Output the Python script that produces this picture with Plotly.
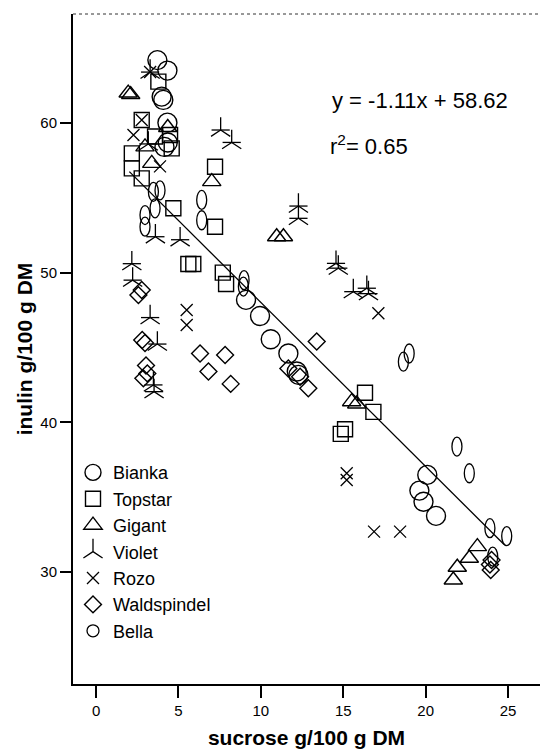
import plotly.graph_objects as go

# ---- data (sucrose g/100 g DM, inulin g/100 g DM) ----
bianka_x = [3.72, 4.33, 3.98, 4.08, 4.33, 4.15, 4.35, 9.1, 9.95, 10.6, 11.67, 12.18, 12.28, 20.1, 19.62, 19.87, 20.63]
bianka_y = [64.2, 63.5, 61.76, 61.54, 60.02, 58.4, 58.7, 48.18, 47.1, 45.55, 44.6, 43.4, 43.17, 36.49, 35.44, 34.7, 33.75]

topstar_x = [3.78, 2.77, 3.58, 4.49, 4.59, 2.17, 2.17, 2.77, 7.22, 4.69, 7.22, 5.6, 5.9, 7.69, 7.89, 16.32, 16.83, 15.11, 14.85]
topstar_y = [62.76, 60.2, 59.1, 59.2, 58.3, 57.97, 56.97, 56.3, 57.08, 54.3, 53.07, 50.58, 50.58, 50.0, 49.24, 41.98, 40.7, 39.54, 39.23]

gigant_x = [1.95, 2.1, 4.35, 2.97, 3.38, 7.02, 10.96, 11.37, 15.51, 15.82, 23.14, 22.65, 21.92, 21.68]
gigant_y = [62.0, 61.9, 59.7, 58.4, 57.3, 56.08, 52.4, 52.4, 41.38, 41.23, 31.7, 30.92, 30.32, 29.47]

violet_x = [3.28, 3.17, 7.56, 8.23, 3.6, 5.1, 2.17, 2.22, 3.28, 3.72, 3.48, 3.52, 12.28, 12.28, 14.56, 14.7, 15.61, 16.43, 16.53]
violet_y = [63.4, 58.6, 59.53, 58.7, 52.4, 52.2, 50.6, 49.5, 47.0, 45.23, 42.5, 42.05, 54.45, 53.63, 50.62, 50.3, 48.73, 48.96, 48.6]

rozo_x = [3.28, 2.77, 2.27, 3.88, 5.5, 5.5, 17.13, 15.21, 15.21, 16.87, 18.45]
rozo_y = [63.4, 60.2, 59.2, 57.1, 47.5, 46.5, 47.29, 36.6, 36.15, 32.7, 32.7]

wald_x = [11.67, 12.38, 12.88, 13.39, 2.77, 2.57, 2.97, 2.8, 6.31, 7.83, 6.82, 8.17, 3.03, 3.11, 2.87, 24.0, 23.95, 23.9]
wald_y = [43.6, 43.05, 42.28, 45.4, 48.84, 48.5, 45.3, 45.5, 44.6, 44.5, 43.4, 42.57, 43.8, 43.27, 42.94, 30.8, 30.14, 30.5]

bella_x = [3.48, 3.88, 3.58, 2.97, 2.97, 6.41, 6.41, 8.98, 8.94, 18.65, 19.0, 21.9, 22.65, 23.9, 24.92, 24.07]
bella_y = [55.4, 55.5, 54.3, 53.85, 53.07, 54.86, 53.5, 49.5, 49.07, 44.05, 44.6, 38.38, 36.6, 32.93, 32.4, 31.03]

fit_x = [2.02, 24.76]
fit_y = [56.75, 31.84]

x_ticks = [0, 5, 10, 15, 20, 25]
y_ticks = [30, 40, 50, 60]

eq_text = "y = -1.11x + 58.62"
r2_text = "r<sup>2</sup>= 0.65"

FONT = "Liberation Sans, Arial, sans-serif"
BLK = "black"

fig = go.Figure()

def add(name, xs, ys, symbol, size, show=True, lw=1.4):
    fig.add_trace(go.Scatter(
        x=xs, y=ys, mode="markers", name=name, showlegend=show,
        marker=dict(symbol=symbol, size=size, color=BLK,
                    line=dict(color=BLK, width=lw)),
    ))

fig.add_trace(go.Scatter(x=fit_x, y=fit_y, mode="lines", showlegend=False,
                         line=dict(color=BLK, width=1.3)))

add("Bianka", bianka_x, bianka_y, "circle-open", 19)
add("Topstar", topstar_x, topstar_y, "square-open", 15)
add("Gigant", gigant_x, gigant_y, "triangle-up-open", 16)
add("Violet", violet_x, violet_y, "y-up-open", 16, lw=1.3)
add("Violet", violet_x, violet_y, "line-ew-open", 13, show=False, lw=1.3)
add("Rozo", rozo_x, rozo_y, "x-thin-open", 12, lw=1.3)
add("Waldspindel", wald_x, wald_y, "diamond-open", 13)

shapes = []
for i, (bx, by) in enumerate(zip(bella_x, bella_y)):
    shapes.append(dict(
        type="circle", xref="x", yref="y",
        xsizemode="pixel", ysizemode="pixel",
        xanchor=bx, yanchor=by,
        x0=-5, x1=5, y0=-9.5, y1=9.5,
        line=dict(color=BLK, width=1.3),
        showlegend=(i == 0), name="Bella", legendrank=2000,
    ))

# top frame line (dotted)
shapes.append(dict(type="line", xref="paper", yref="paper", x0=0, x1=1, y0=1, y1=1,
                   line=dict(color="#333", width=1, dash="dot")))

L, T, W, H = 73, 14, 540 - 73, 684 - 14

fig.update_layout(
    width=540, height=751,
    margin=dict(l=73, r=0, t=14, b=67),
    paper_bgcolor="white", plot_bgcolor="white",
    font=dict(family=FONT, color=BLK),
    shapes=shapes,
    showlegend=True,
    legend=dict(x=0.0, y=0.343, xanchor="left", yanchor="top",
                bgcolor="rgba(0,0,0,0)", font=dict(size=18, family=FONT),
                itemsizing="trace", tracegroupgap=0),
    annotations=[
        dict(x=(330 - L) / W, y=1 - (100 - T) / H, xref="paper", yref="paper",
             xanchor="left", yanchor="middle", showarrow=False,
             text=eq_text, font=dict(size=22, family=FONT)),
        dict(x=(328 - L) / W, y=1 - (145 - T) / H, xref="paper", yref="paper",
             xanchor="left", yanchor="middle", showarrow=False,
             text=r2_text, font=dict(size=22, family=FONT)),
    ],
)

fig.update_xaxes(range=[-1.4, 26.94], tickvals=x_ticks, ticks="outside", ticklen=12,
                 tickwidth=1.5, tickcolor=BLK, showline=True, linewidth=2, linecolor=BLK,
                 showgrid=False, zeroline=False, tickfont=dict(size=15),
                 title=dict(text="<b>sucrose g/100 g DM</b>", font=dict(size=21), standoff=12))
fig.update_yaxes(range=[22.52, 67.28], tickvals=y_ticks, ticks="outside", ticklen=11,
                 tickwidth=1.5, tickcolor=BLK, showline=True, linewidth=2, linecolor=BLK,
                 showgrid=False, zeroline=False, tickfont=dict(size=15),
                 title=dict(text="<b>inulin g/100 g DM</b>", font=dict(size=21), standoff=2))

fig.write_html("out.html")
